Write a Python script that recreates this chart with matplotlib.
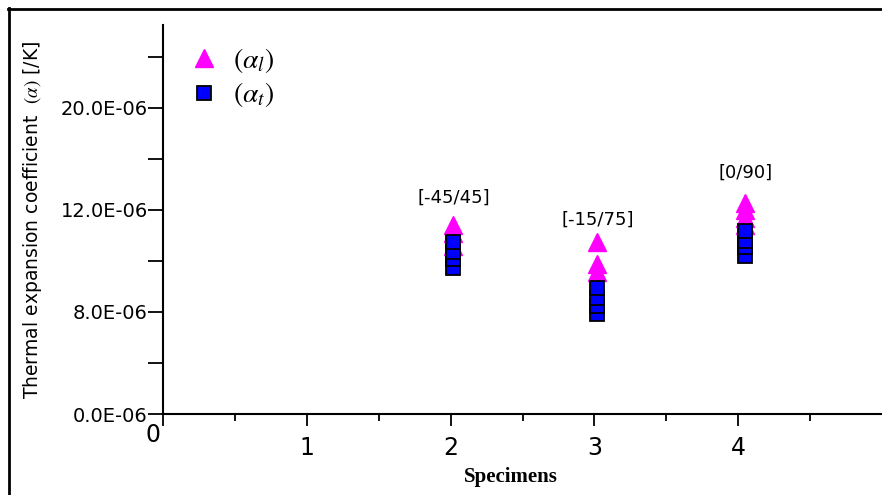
import numpy as np
import matplotlib
matplotlib.use("Agg")
import matplotlib.pyplot as plt
from matplotlib.lines import Line2D

# ---------------- data (values in units of 1E-06 /K) ----------------
specimen_x = [2.02, 3.02, 4.05]
laminate_labels = ["[-45/45]", "[-15/75]", "[0/90]"]
label_offsets_pt = [20, 16, 22]

alpha_l_spec2 = [11.4, 11.1, 10.6]
alpha_l_spec3 = [10.75, 9.88, 9.58]
alpha_l_spec4 = [12.55, 12.0, 11.7, 11.4]

alpha_t_spec2 = [9.73, 10.06, 10.35, 10.75]
alpha_t_spec3 = [7.84, 8.25, 8.53, 8.92]
alpha_t_spec4 = [10.20, 10.53, 10.80, 11.18]

alpha_l = [alpha_l_spec2, alpha_l_spec3, alpha_l_spec4]
alpha_t = [alpha_t_spec2, alpha_t_spec3, alpha_t_spec4]

ytick_values = [0, 8, 12, 20]
ytick_labels = ["0.0E-06", "8.0E-06", "12.0E-06", "20.0E-06"]
yminor_values = [4, 10, 16, 24]
xtick_values = [0, 1, 2, 3, 4]
xtick_labels = ["", "1", "2", "3", "4"]
xminor_values = [0.5, 1.5, 2.5, 3.5, 4.5]

# axis of the original: labels equally spaced although values are not
V_KNOTS = [-8, 0, 8, 12, 20, 40]
U_KNOTS = [-2, 0, 2, 4, 6, 11]


def forward(v):
    return np.interp(v, V_KNOTS, U_KNOTS)


def inverse(u):
    return np.interp(u, U_KNOTS, V_KNOTS)


plt.rcParams["mathtext.fontset"] = "stix"
plt.rcParams["font.family"] = ["DejaVu Sans"]

W, H = 882, 495
fig = plt.figure(figsize=(W / 100, H / 100), dpi=100)
ax = fig.add_axes([163 / W, 81 / H, (W - 163) / W, 389 / H])
ax.set_yscale("function", functions=(forward, inverse))
ax.set_xlim(0, 5.0)
ax.set_ylim(0, 26.5)

magenta = "#FF00FF"
blue = "#0000FF"
for i, x in enumerate(specimen_x):
    ax.plot([x] * len(alpha_l[i]), alpha_l[i], ls="none", marker="^", ms=13,
            color=magenta, mec=magenta, label=r"$(\alpha_l)$" if i == 0 else None,
            zorder=3)
for i, x in enumerate(specimen_x):
    ax.plot([x] * len(alpha_t[i]), alpha_t[i], ls="none", marker="s", ms=10.5,
            mfc=blue, mec="black", mew=1.3,
            label=r"$(\alpha_t)$" if i == 0 else None, zorder=4)

for i, x in enumerate(specimen_x):
    ax.annotate(laminate_labels[i], xy=(x, max(alpha_l[i])), xycoords="data",
                xytext=(0, label_offsets_pt[i]), textcoords="offset points",
                ha="center", va="center", fontsize=13)

# spines / ticks
for s in ["top", "right"]:
    ax.spines[s].set_visible(False)
for s in ["left", "bottom"]:
    ax.spines[s].set_linewidth(1.5)

ax.set_yticks(ytick_values)
ax.set_yticklabels(ytick_labels)
ax.set_yticks(yminor_values, minor=True)
ax.set_yticklabels([], minor=True)
ax.set_xticks(xtick_values)
ax.set_xticklabels(xtick_labels)
ax.set_xticks(xminor_values, minor=True)

ax.tick_params(axis="y", which="both", direction="out", length=11, width=1.3,
               pad=0, labelsize=14)
ax.tick_params(axis="x", which="major", direction="out", length=8.5, width=1.3,
               pad=7, labelsize=17)
ax.tick_params(axis="x", which="minor", direction="out", length=5, width=1.3)

ax.annotate("0", xy=(0, 0), xycoords="data", xytext=(-7, -15),
            textcoords="offset points", ha="center", va="center", fontsize=17)

ax.set_ylabel(r"Thermal expansion coefficient  $(\alpha)$ [/K]", fontsize=13.5)
ax.yaxis.set_label_coords(-0.165, 0.5)
ax.set_xlabel("Specimens", family="Liberation Serif", fontweight="bold",
              fontsize=15)
ax.xaxis.set_label_coords((511 - 163) / (W - 163), -0.135)

leg = ax.legend(loc="upper left", bbox_to_anchor=(0.022, 0.975), frameon=False,
                prop={"size": 20}, handletextpad=0.55, labelspacing=0.2,
                handlelength=1.0, borderaxespad=0)

# outer frame (left and top edges visible)
fig.add_artist(Line2D([8 / W, 1.0], [1 - 8.5 / H] * 2, transform=fig.transFigure,
                      color="black", lw=2))
fig.add_artist(Line2D([8.5 / W] * 2, [0, 1 - 8 / H], transform=fig.transFigure,
                      color="black", lw=2))

fig.savefig("out.png", dpi=100)
